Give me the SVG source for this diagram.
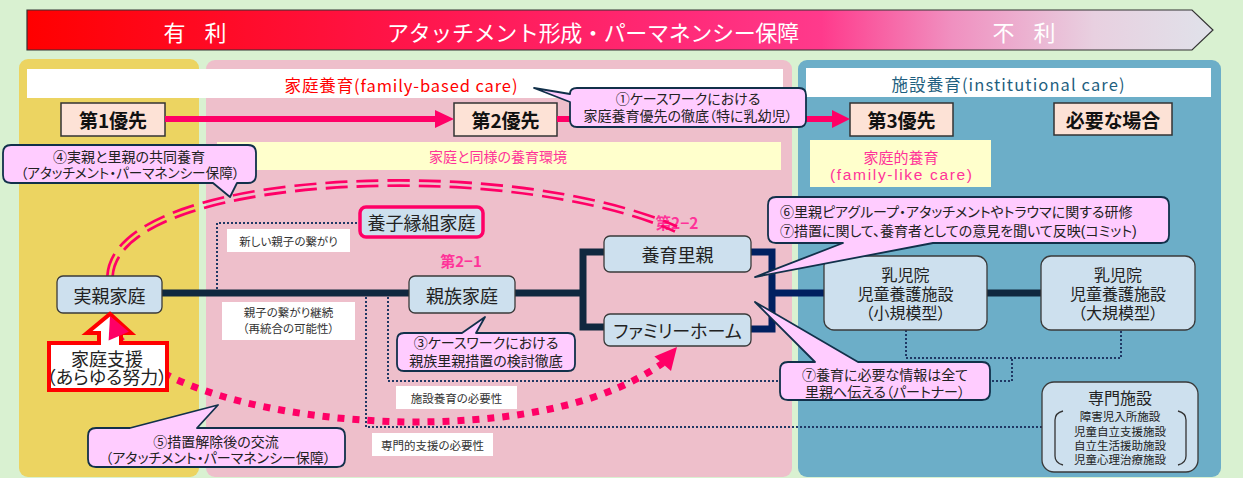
<svg xmlns="http://www.w3.org/2000/svg" width="1243" height="478" viewBox="0 0 1243 478">
<defs>
<linearGradient id="bannerGrad" x1="27" y1="0" x2="1213" y2="0" gradientUnits="userSpaceOnUse">
<stop offset="0" stop-color="#ff0000"/>
<stop offset="0.31" stop-color="#ff1448"/>
<stop offset="0.55" stop-color="#ff2a78"/>
<stop offset="0.67" stop-color="#ff3a8c"/>
<stop offset="0.78" stop-color="#f090c0"/>
<stop offset="0.9" stop-color="#e8d0e0"/>
<stop offset="1" stop-color="#e0e2ea"/>
</linearGradient>
<mask id="dblMask" maskUnits="userSpaceOnUse" x="0" y="0" width="1243" height="478">
<path d="M110,276 C114,214 250,183 400,183 C520,183 620,204 676,229" fill="none" stroke="#fff" stroke-width="8" stroke-dasharray="22 9"/>
<path d="M110,276 C114,214 250,183 400,183 C520,183 620,204 676,229" fill="none" stroke="#000" stroke-width="2.6"/>
</mask>
<style>
text { font-family: "Noto Sans CJK JP", "Noto Sans", sans-serif; font-feature-settings: "palt" 1; fill: #222; }
.ml { font-family: "Liberation Sans", "Noto Sans CJK JP", sans-serif; }
.np { font-feature-settings: normal; }
.node { fill: #cde0ee; stroke: #3a3a3a; stroke-width: 1.3; }
.nt { font-size: 18px; text-anchor: middle; dominant-baseline: central; }
.nt2 { font-size: 16px; text-anchor: middle; dominant-baseline: central; }
.prio { fill: #fde2d6; stroke: #333; stroke-width: 1.5; }
.pt { font-size: 19px; font-weight: bold; text-anchor: middle; dominant-baseline: central; fill: #111; }
.callout { fill: #ffccff; stroke: #11304a; stroke-width: 1.8; stroke-linejoin: round; }
.ct { font-size: 14px; text-anchor: middle; dominant-baseline: central; }
.lbl { fill: #fff; }
.lt { font-size: 11.5px; text-anchor: middle; dominant-baseline: central; fill: #333; }
.solid { fill: none; stroke: #10283f; stroke-width: 7; stroke-linejoin: miter; }
.solid2 { fill: none; stroke: #002060; stroke-width: 7; stroke-linejoin: miter; }
.dot { fill: none; stroke: #1f3864; stroke-width: 2; stroke-dasharray: 2 2; }
.pink { fill: #ff0066; }
.pinkt { fill: #ff3399; text-anchor: middle; dominant-baseline: central; }
.wt { fill: #fff; font-size: 22px; text-anchor: middle; dominant-baseline: central; }
</style>
</defs>

<!-- background -->
<rect x="0" y="0" width="1243" height="478" fill="#d9f1d1"/>

<!-- banner -->
<g id="banner">
<path d="M27,10 H1192 L1213,30 L1192,50 H27 Z" fill="url(#bannerGrad)" stroke="#333" stroke-width="1.2"/>
<text class="wt np" x="195" y="31" style="word-spacing:14px">有 利</text>
<text class="wt np" x="593" y="31" font-size="21.7" textLength="412" lengthAdjust="spacing">アタッチメント形成・パーマネンシー保障</text>
<text class="wt np" x="1024" y="31" style="word-spacing:14px">不 利</text>
</g>

<!-- panels -->
<g id="panels">
<rect x="19" y="59" width="180" height="418" rx="9" fill="#ecd461"/>
<rect x="206" y="60" width="586" height="417" rx="9" fill="#eebfcb"/>
<rect x="798" y="60" width="423" height="417" rx="9" fill="#6caec8"/>
<rect x="27" y="69" width="756" height="29" fill="#fff"/>
<text x="401" y="85" font-size="16.5" text-anchor="middle" dominant-baseline="central" textLength="233" lengthAdjust="spacing" style="fill:#ff0000">家庭養育(family-based care)</text>
<rect x="806" y="68" width="405" height="29" fill="#fff"/>
<text x="1008" y="84" font-size="16.5" text-anchor="middle" dominant-baseline="central" textLength="233" lengthAdjust="spacing" style="fill:#1f5f80">施設養育(institutional care)</text>
<rect x="217" y="142" width="564" height="28" fill="#ffffcc"/>
<text class="pinkt" x="498" y="156" font-size="14">家庭と同様の養育環境</text>
<rect x="810" y="140" width="181" height="47" fill="#ffffcc"/>
<text class="pinkt ml" x="901" y="157" font-size="15"><tspan x="901" dy="0">家庭的養育</tspan><tspan x="901" dy="17" font-size="15.5" textLength="142" lengthAdjust="spacing">(family-like care)</tspan></text>
</g>

<!-- priorities -->
<g id="prio1"><rect class="prio" x="61" y="103" width="104" height="33"/><text class="pt" x="113" y="119">第1優先</text></g>
<g id="prio2"><rect class="prio" x="454" y="103" width="103" height="33"/><text class="pt" x="505.5" y="119">第2優先</text></g>
<g id="prio3"><rect class="prio" x="850" y="103" width="103" height="33"/><text class="pt" x="901.5" y="119">第3優先</text></g>
<g id="prio-need"><rect class="prio" x="1054" y="103" width="118" height="32"/><text class="pt" x="1113" y="119">必要な場合</text></g>

<!-- white labels -->
<g id="labels">
<rect class="lbl" x="227" y="229" width="123" height="23"/>
<text class="lt" x="288.5" y="240.5">新しい親子の繋がり</text>
<rect class="lbl" x="222" y="302" width="133" height="38"/>
<text class="lt ml" x="288.5" y="313"><tspan x="288.5" dy="0">親子の繋がり継続</tspan><tspan x="288.5" dy="16">（再統合の可能性）</tspan></text>
<rect class="lbl" x="396" y="386" width="121" height="23"/>
<text class="lt" x="456.5" y="397.5">施設養育の必要性</text>
<rect class="lbl" x="372" y="433" width="121" height="23"/>
<text class="lt" x="432.5" y="444.5">専門的支援の必要性</text>
<text class="pinkt" x="461" y="260" font-size="15" font-weight="bold">第2−1</text>
<text class="pinkt" x="677" y="222" font-size="15.5" font-weight="bold">第2−2</text>
</g>

<!-- connectors -->
<g id="connectors">
<path class="pink" d="M165,116 H437 V122 H165 Z"/>
<polygon class="pink" points="435,110 454,119 435,128"/>
<path class="pink" d="M557,116 H834 V122 H557 Z"/>
<polygon class="pink" points="832,110 850,119 832,128"/>
<path class="dot" d="M217,293 V223 H360"/>
<path class="dot" d="M366,293 V427 H1042"/>
<path class="dot" d="M388,293 V381 H1012 V358"/>
<path class="dot" d="M906,330 V358 H1121 V330"/>
<path class="solid" d="M162,293 H409"/>
<path class="solid" d="M515,293 H583"/>
<path class="solid" d="M604,252 H583 V327 H604"/>
<path class="solid2" d="M751,252 H772 V329 H751"/>
<path class="solid2" d="M772,293 H824"/>
<path class="solid" d="M987,293 H1041"/>
<rect x="0" y="0" width="1243" height="478" fill="#ff0066" mask="url(#dblMask)"/>
<path d="M118,336 C150,385 270,420 410,422 C530,422 610,400 663,363" fill="none" stroke="#ff0066" stroke-width="7" stroke-dasharray="7 8"/>
<polygon class="pink" points="677,347 671,370.9 654.4,356.5"/>
</g>

<!-- nodes -->
<g id="node-jitsuoya"><rect class="node" x="57" y="276" width="105" height="37" rx="6"/><text class="nt" x="109.5" y="294.5">実親家庭</text></g>
<g id="node-shinzoku"><rect class="node" x="409" y="276" width="106" height="37" rx="6"/><text class="nt" x="462" y="294.5">親族家庭</text></g>
<g id="node-yoiku"><rect class="node" x="604" y="236" width="147" height="36" rx="6"/><text class="nt" x="677.5" y="254">養育里親</text></g>
<g id="node-family-home"><rect class="node" x="604" y="314" width="147" height="32" rx="6"/><text class="nt" x="677.5" y="330" font-size="15.5">ファミリーホーム</text></g>
<g id="node-yoshi"><rect x="360" y="207" width="123" height="30" rx="6" fill="#cde0ee" stroke="#ff0066" stroke-width="3.5"/><text class="nt" x="421.5" y="222" font-size="15.5">養子縁組家庭</text></g>
<g id="node-shisetsu-small"><rect class="node" x="824" y="256" width="163" height="74" rx="10"/>
<text class="nt2 ml" x="905.5" y="275"><tspan x="905.5" dy="0">乳児院</tspan><tspan x="905.5" dy="19">児童養護施設</tspan><tspan x="905.5" dy="19">（小規模型）</tspan></text></g>
<g id="node-shisetsu-large"><rect class="node" x="1041" y="256" width="154" height="74" rx="10"/>
<text class="nt2 ml" x="1118" y="275"><tspan x="1118" dy="0">乳児院</tspan><tspan x="1118" dy="19">児童養護施設</tspan><tspan x="1118" dy="19">（大規模型）</tspan></text></g>
<g id="node-senmon"><rect class="node" x="1042" y="382" width="156" height="90" rx="12"/>
<text class="nt2 ml" x="1120" y="398">専門施設</text>
<path d="M1063,411 Q1055,413 1055,420 V456 Q1055,463 1063,465" fill="none" stroke="#333" stroke-width="1.3"/>
<path d="M1178,411 Q1186,413 1186,420 V456 Q1186,463 1178,465" fill="none" stroke="#333" stroke-width="1.3"/>
<text class="lt ml" x="1120" y="417" font-size="12.5" style="fill:#222"><tspan x="1120" dy="0">障害児入所施設</tspan><tspan x="1120" dy="14.5">児童自立支援施設</tspan><tspan x="1120" dy="14.5">自立生活援助施設</tspan><tspan x="1120" dy="14">児童心理治療施設</tspan></text></g>
<g id="node-katei-shien">
<path d="M49,343 H99 V333 H87 L110,314 L131,333 H121 V343 H167 V390 H49 Z" fill="#fff" stroke="#ff0000" stroke-width="4"/>
<polygon class="pink" points="110,316 128.8,331.8 108.6,340.6"/>
<text class="nt ml" x="107" y="360" font-size="15"><tspan x="107" dy="0">家庭支援</tspan><tspan x="107" dy="18">（あらゆる努力）</tspan></text>
</g>

<!-- callouts -->
<g id="callout-1"><path class="callout" d="M577,88 H799 Q806,88 806,95 V120 Q806,127 799,127 H577 Q570,127 570,120 V102 L534,88 L570,94 Q570,88 577,88 Z"/>
<text class="ct ml" x="688" y="99"><tspan x="688" dy="0">①ケースワークにおける</tspan><tspan x="688" dy="17">家庭養育優先の徹底（特に乳幼児）</tspan></text></g>
<g id="callout-4"><path class="callout" d="M11,145 H248 Q256,145 256,153 V175 Q256,183 248,183 H237 L230,197 L213,183 H11 Q3,183 3,175 V153 Q3,145 11,145 Z"/>
<text class="ct ml" x="129" y="157"><tspan x="129" dy="0">④実親と里親の共同養育</tspan><tspan x="130" dy="16" font-size="13.6">（アタッチメント・パーマネンシー保障）</tspan></text></g>
<g id="callout-5"><path class="callout" d="M96,428 H130 L218,405 L197,428 H337 Q345,428 345,436 V459 Q345,467 337,467 H96 Q88,467 88,459 V436 Q88,428 96,428 Z"/>
<text class="ct ml" x="216" y="442"><tspan x="216" dy="0">⑤措置解除後の交流</tspan><tspan x="218" dy="16">（アタッチメント・パーマネンシー保障）</tspan></text></g>
<g id="callout-3"><path class="callout" d="M404,333 H462 L485,317 L476,333 H568 Q575,333 575,340 V364 Q575,371 568,371 H404 Q397,371 397,364 V340 Q397,333 404,333 Z"/>
<text class="ct ml" x="486" y="343"><tspan x="486" dy="0">③ケースワークにおける</tspan><tspan x="486" dy="18">親族里親措置の検討徹底</tspan></text></g>
<g id="callout-6-7"><path class="callout" d="M776,197 H1161 Q1169,197 1169,205 V235 Q1169,243 1161,243 H933 L755,277 L843,243 H776 Q768,243 768,235 V205 Q768,197 776,197 Z"/>
<text class="ct ml" x="780" y="212" font-size="13.9" style="text-anchor:start"><tspan x="780" dy="0">⑥里親ピアグループ・アタッチメントやトラウマに関する研修</tspan><tspan x="780" dy="19">⑦措置に関して、養育者としての意見を聞いて反映(コミット)</tspan></text></g>
<g id="callout-7"><path class="callout" d="M788,362 H815 L755,302 L858,362 H982 Q990,362 990,370 V392 Q990,400 982,400 H788 Q780,400 780,392 V370 Q780,362 788,362 Z"/>
<text class="ct ml" x="885" y="375"><tspan x="885" dy="0">⑦養育に必要な情報は全て</tspan><tspan x="885" dy="17">里親へ伝える（パートナー）</tspan></text></g>
</svg>
